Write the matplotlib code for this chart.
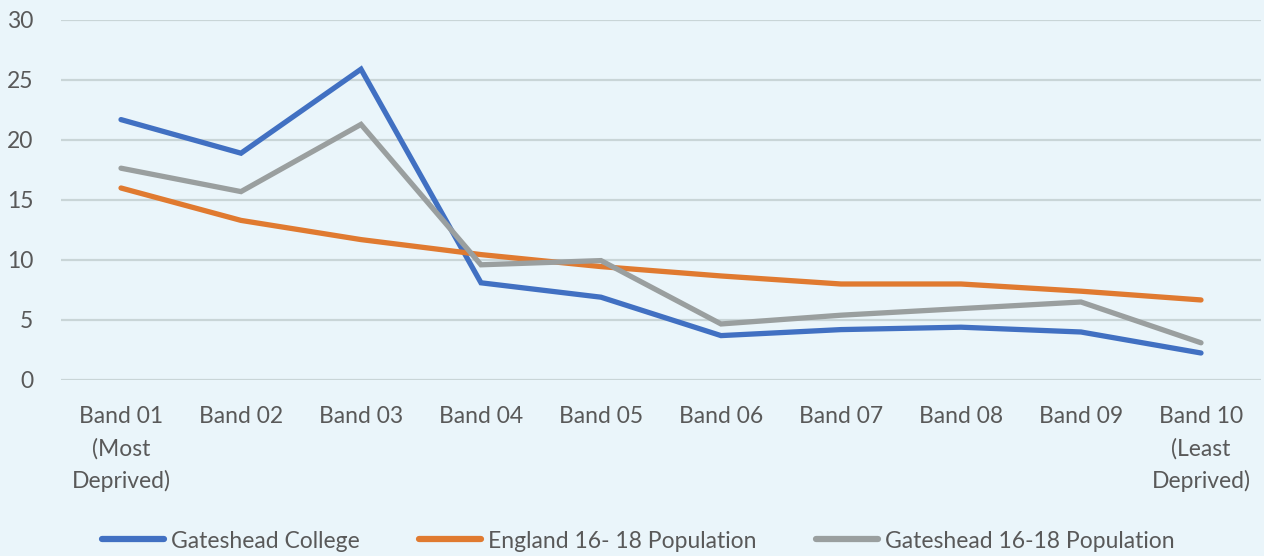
import matplotlib
matplotlib.use("Agg")
import matplotlib.pyplot as plt

bands = ["Band 01\n(Most\nDeprived)", "Band 02", "Band 03", "Band 04", "Band 05",
         "Band 06", "Band 07", "Band 08", "Band 09", "Band 10\n(Least\nDeprived)"]
gateshead_college = [21.7, 18.9, 25.9, 8.1, 6.9, 3.7, 4.2, 4.4, 4.0, 2.25]
england_16_18 = [16.0, 13.3, 11.7, 10.45, 9.45, 8.67, 8.0, 8.0, 7.4, 6.67]
gateshead_16_18 = [17.65, 15.7, 21.3, 9.6, 9.95, 4.67, 5.4, 5.95, 6.5, 3.1]
y_ticks = [0, 5, 10, 15, 20, 25, 30]

bg = "#EAF5FA"
text_col = "#595959"
plt.rcParams["font.family"] = ["Lato", "DejaVu Sans"]

fig = plt.figure(figsize=(12.64, 5.56), dpi=100, facecolor=bg)
ax = fig.add_axes([61 / 1264, 1 - 380 / 556, 1200 / 1264, 360 / 556], facecolor=bg)

x = list(range(len(bands)))
series = [
    ("Gateshead College", gateshead_college, "#4170C2"),
    ("England 16- 18 Population", england_16_18, "#E07A30"),
    ("Gateshead 16-18 Population", gateshead_16_18, "#9A9F9F"),
]
for name, vals, col in series:
    ax.plot(x, vals, color=col, lw=3.8, label=name,
            solid_capstyle="round", solid_joinstyle="miter", zorder=3)

ax.set_xlim(-0.5, len(bands) - 0.5)
ax.set_ylim(0, 30)
ax.set_yticks(y_ticks)
ax.set_xticks(x)
ax.set_xticklabels(bands, linespacing=1.6)
ax.grid(axis="y", color="#C9D5D7", lw=1.6, zorder=0)
for s in ax.spines.values():
    s.set_visible(False)
ax.tick_params(axis="both", length=0, colors=text_col, labelsize=16.5)
ax.tick_params(axis="x", pad=19)
ax.tick_params(axis="y", pad=20)
for lbl in ax.get_yticklabels():
    lbl.set_horizontalalignment("right")

leg = fig.legend(loc="center", bbox_to_anchor=(0.505, 1 - 541 / 556), ncol=3,
                 frameon=False, fontsize=16.5, handlelength=2.7, handletextpad=0.3,
                 columnspacing=2.6, borderpad=0, borderaxespad=0)
for t in leg.get_texts():
    t.set_color(text_col)
for h in leg.get_lines():
    h.set_linewidth(4.5)

fig.savefig("out.png", dpi=100, facecolor=bg)
